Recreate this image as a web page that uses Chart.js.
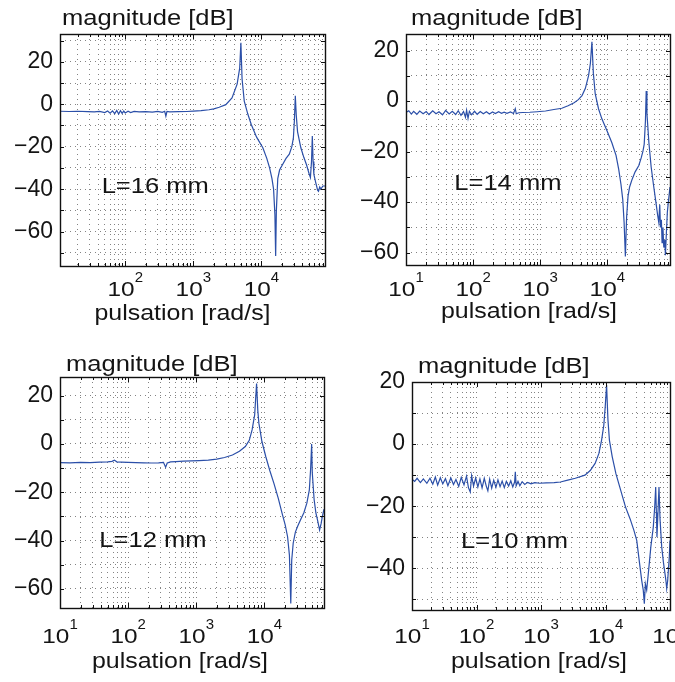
<!DOCTYPE html>
<html>
<head>
<meta charset="utf-8">
<script src="https://cdn.jsdelivr.net/npm/chart.js@4.4.0/dist/chart.umd.min.js"></script>
<style>
	body { margin: 0; background: #fff; }
	#wrap { position: relative; width: 675px; height: 682px; overflow: hidden; background: #fff; }
	#wrap canvas { position: absolute; }
</style>
</head>
<body>
<div id="wrap">
	<canvas id="chart1" width="337" height="341" style="left:0px;top:0px"></canvas>
	<canvas id="chart2" width="338" height="341" style="left:337px;top:0px"></canvas>
	<canvas id="chart3" width="337" height="341" style="left:0px;top:341px"></canvas>
	<canvas id="chart4" width="338" height="341" style="left:337px;top:341px"></canvas>
</div>
<script>
//data (pulsation in rad/s, magnitude in dB)
const w16 = [11, 15, 20, 28, 35, 42, 50, 55, 60, 65, 70, 75, 80, 85, 90, 95, 100, 110, 120, 135, 160, 200, 250, 300, 350, 380, 395, 410, 450, 600, 800, 1000, 1300, 1700, 2000, 2400, 3000, 3700, 4400, 4800, 5000, 5200, 5600, 6300, 7100, 8500, 10500, 12000, 13200, 14300, 15100, 15800, 16200, 16600, 17400, 18500, 20400, 23000, 25700, 28000, 29500, 30500, 31500, 32500, 34000, 38000, 42000, 46000, 50000, 52500, 54500, 56000, 57500, 59000, 63000, 67000, 69000, 72000, 75000, 80000, 86000];
const mag16 = [-3.3, -3.4, -3.3, -3.5, -3.6, -3.4, -3.9, -3.2, -4.2, -3.1, -4.4, -2.9, -4.6, -3.0, -4.3, -3.2, -4.1, -3.3, -3.9, -3.4, -3.6, -3.5, -3.7, -3.4, -3.8, -3.3, -5.6, -3.4, -3.6, -3.5, -3.4, -3.2, -3.0, -2.6, -2.2, -1.4, -0.2, 3.0, 9.5, 17, 29, 12, 1.5, -4.5, -9.5, -15.5, -20.5, -25.5, -30, -35, -40, -52, -71.5, -50, -35, -31, -28.5, -25.5, -23.5, -20, -16, -8, 4, -5, -13, -20.5, -25, -28.5, -32.5, -34.5, -27, -15, -27, -33, -37, -40.5, -41, -39, -40, -38.5, -38.5];

const w14 = [10, 11, 12, 13, 14.5, 16, 18, 20, 22, 25, 28, 31, 35, 39, 44, 49, 55, 60, 66, 72, 77, 80, 84, 88, 95, 105, 115, 128, 142, 158, 175, 195, 215, 240, 265, 290, 320, 360, 400, 425, 440, 480, 550, 700, 900, 1200, 1600, 2100, 2600, 3200, 3700, 4200, 4700, 5250, 5600, 5900, 6200, 6600, 7400, 8300, 10000, 11700, 13500, 14800, 16000, 17000, 17800, 18600, 19400, 20400, 21500, 23400, 26000, 29500, 32000, 34000, 35500, 37000, 38000, 39000, 41700, 45000, 49000, 53000, 56500, 58500, 60500, 62000, 64000, 65500, 67500, 69500, 72000, 73500, 76000, 78500, 82000, 86000];
const mag14 = [-4.5, -3.8, -5.1, -4.0, -5.2, -3.9, -5.0, -4.1, -5.3, -3.8, -5.0, -4.2, -5.4, -3.7, -5.1, -4.0, -5.3, -3.8, -5.6, -4.1, -6.4, -3.6, -6.8, -4.0, -5.4, -4.0, -5.2, -4.1, -5.0, -4.2, -5.1, -4.3, -4.9, -4.2, -4.8, -4.4, -4.8, -4.3, -4.9, -3.0, -5.0, -4.6, -4.5, -4.4, -4.2, -3.9, -3.3, -2.8, -1.8, -0.6, 0.6, 2.2, 5, 10, 15, 23.5, 11, 3, -3, -7, -12, -16.5, -21.5, -27, -33, -39, -48, -61.5, -46, -37.5, -34, -31, -28, -25.5, -22.5, -19.8, -17, -8, 4, -5, -16.5, -26, -33.5, -40, -45.5, -48, -41, -50, -47, -56, -50, -58, -55, -61, -52, -44, -39, -34];

const w12 = [10, 14, 20, 28, 38, 50, 58, 63, 68, 80, 100, 130, 170, 220, 280, 330, 355, 375, 420, 500, 650, 850, 1100, 1500, 2000, 2600, 3400, 4300, 5250, 6000, 6600, 7200, 7680, 8000, 8300, 9200, 10500, 12000, 13800, 16000, 18200, 20200, 21900, 23300, 24400, 25200, 26500, 28500, 30900, 34500, 38000, 42000, 45700, 47800, 49400, 50500, 53700, 57000, 60300, 64600, 68000, 71000, 75000];
const mag12 = [-7.7, -7.8, -7.6, -7.7, -7.5, -7.4, -7.2, -6.7, -7.4, -7.5, -7.6, -7.7, -7.8, -7.9, -7.8, -7.6, -9.6, -7.9, -7.4, -7.3, -7.1, -7.0, -6.9, -6.7, -6.3, -5.6, -4.6, -3.0, -1.1, 1.5, 5.8, 12, 25, 14, 8.6, 1, -5.3, -11, -16.3, -22.5, -28.7, -33.5, -38.4, -46, -66, -48, -41, -36.5, -34, -31, -28.5, -24.5, -19, -10, 0, -12, -23, -28.5, -31.5, -35.6, -33, -30, -27];

const w10 = [10, 11, 12, 13.5, 15, 17, 19, 21, 23, 25, 27.5, 30, 33, 36, 40, 44, 48, 53, 58, 64, 70, 75, 80, 84, 90, 97, 105, 113, 122, 132, 142, 150, 160, 172, 185, 200, 215, 232, 250, 270, 290, 315, 340, 365, 390, 400, 412, 440, 470, 510, 560, 620, 700, 800, 950, 1200, 1600, 2000, 2600, 3400, 4800, 5800, 6900, 7900, 8700, 9400, 9900, 10400, 10900, 11500, 12700, 14500, 17000, 20400, 24000, 27500, 30500, 34300, 36500, 38500, 40000, 41500, 43500, 46100, 50500, 55100, 58000, 60000, 61500, 62800, 64500, 67500, 70000, 74300, 79000, 83600, 86500, 88900, 92000, 97500, 100000];
const mag10 = [-11.3, -12.0, -11.0, -12.4, -11.2, -12.6, -11.0, -12.9, -10.6, -13.2, -10.8, -12.8, -11.1, -13.4, -10.9, -13.0, -11.4, -13.6, -10.7, -13.1, -10.3, -14.0, -15.4, -10.2, -13.5, -10.9, -13.8, -11.2, -14.1, -11.0, -13.6, -15.0, -11.3, -14.2, -11.6, -13.9, -11.5, -13.7, -11.9, -14.0, -12.0, -13.5, -11.8, -13.8, -12.2, -8.9, -13.4, -12.0, -13.4, -12.1, -13.0, -12.3, -12.8, -12.4, -12.6, -12.5, -12.4, -12.2, -11.6, -11.0, -10.0, -8.5, -6.2, -3, 1.3, 6, 12, 19, 8, 1.3, -4, -9.5, -14.5, -20.2, -24, -27.7, -31, -39.6, -44, -47, -51.4, -45, -47, -41.7, -33, -26.7, -20, -13.8, -22, -29.9, -24, -13.8, -24, -33, -38, -41.7, -44, -46.5, -44, -36.3, -31];

//axis ranges, labels and tick values
const xRanges = [[11, 86000], [10, 86000], [10, 75000], [10, 100000]];
const yRanges = [[-76.2, 33.1], [-64.9, 26.6], [-67.9, 27.7], [-53.4, 20]];
const decadeTicks = [10, 100, 1000, 10000, 100000];
const yLabelStep = 20;
const yGridStep = 10;
const lengthLabels = ['L=16 mm', 'L=14 mm', 'L=12 mm', 'L=10 mm'];
const labelSpots = [[45, -41.8], [52.5, -35], [37.8, -42.5], [57.5, -33.6]];
const yTitle = 'magnitude [dB]';
const xTitle = 'pulsation [rad/s]';

//layout of each panel inside its canvas
const panels = [
	{id: 'chart1', w: w16, m: mag16, axisW: 60, padTop: 34, padRight: 12, axisH: 75, title: [2, -9], xlab: [-10, 54], tickBase: 30},
	{id: 'chart2', w: w14, m: mag14, axisW: 69, padTop: 34, padRight: 5, axisH: 76, title: [5, -9], xlab: [-9, 53], tickBase: 31},
	{id: 'chart3', w: w12, m: mag12, axisW: 60, padTop: 36, padRight: 13, axisH: 74, title: [6, -6], xlab: [-12, 60], tickBase: 35},
	{id: 'chart4', w: w10, m: mag10, axisW: 75, padTop: 41, padRight: 5, axisH: 72, title: [6, -9], xlab: [-2, 58], tickBase: 33}
];

const FONT = "'Liberation Sans', Arial, Helvetica, sans-serif";
const TEXT = '#141414';
const GRID = 'rgba(30,30,30,0.55)';
const STRETCH = 1.16; //the original lettering is a bit wider than it is tall

function wideText(ctx, str, x, y, size, align, sx) {
	sx = sx || STRETCH;
	ctx.font = size + 'px ' + FONT;
	let w = ctx.measureText(str).width * sx;
	let x0 = align == 'center' ? x - w / 2 : x;
	ctx.save();
	ctx.translate(x0, y);
	ctx.scale(sx, 1);
	ctx.textAlign = 'left';
	ctx.textBaseline = 'alphabetic';
	ctx.fillText(str, 0, 0);
	ctx.restore();
	return w;
}

function gridValues(min, max) {
	let vals = [];
	decadeTicks.forEach(d => {
		for(let k = 1; k < 10; k++) {
			let v = d * k;
			if(v >= min * 0.999 && v <= max * 1.001) vals.push(v);
		}
	});
	return vals;
}

//box, inner ticks and all the lettering
const matlabFrame = {
	id: 'matlabFrame',
	afterDraw(chart, args, options) {
		const {ctx, chartArea: {left, top, right, bottom}, scales: {x, y}} = chart;
		const p = options.panel;
		ctx.save();
		ctx.strokeStyle = '#111';
		ctx.lineWidth = 1;
		ctx.beginPath();
		y.ticks.forEach(t => {
			let py = Math.round(y.getPixelForValue(t.value)) + 0.5;
			ctx.moveTo(left, py); ctx.lineTo(left + 4, py);
			ctx.moveTo(right, py); ctx.lineTo(right - 4, py);
		});
		gridValues(x.min, x.max).forEach(v => {
			let px = Math.round(x.getPixelForValue(v)) + 0.5;
			let len = decadeTicks.indexOf(v) >= 0 ? 5 : 3;
			ctx.moveTo(px, bottom); ctx.lineTo(px, bottom - len);
			ctx.moveTo(px, top); ctx.lineTo(px, top + len);
		});
		ctx.stroke();
		ctx.lineWidth = 1.4;
		ctx.strokeRect(Math.round(left) + 0.5, Math.round(top) + 0.5, Math.round(right - left), Math.round(bottom - top));

		ctx.fillStyle = TEXT;
		//decade labels 10^n
		decadeTicks.forEach(v => {
			if(v < x.min * 0.999 || v > x.max * 1.001) return;
			let px = x.getPixelForValue(v);
			let exp = String(Math.round(Math.log10(v)));
			ctx.font = '21px ' + FONT;
			let wb = ctx.measureText('10').width * STRETCH;
			ctx.font = '15px ' + FONT;
			let we = ctx.measureText(exp).width;
			let x0 = px - (wb + we) / 2;
			let base = bottom + p.tickBase;
			wideText(ctx, '10', x0, base, 21, 'left');
			wideText(ctx, exp, x0 + wb, base - 14, 15, 'left', 1);
		});
		wideText(ctx, yTitle, left + p.title[0], top + p.title[1], 22, 'left');
		wideText(ctx, xTitle, (left + right) / 2 + p.xlab[0], bottom + p.xlab[1], 21.5, 'center');
		wideText(ctx, options.note, x.getPixelForValue(options.spot[0]), y.getPixelForValue(options.spot[1]), 22, 'left');
		ctx.restore();
	}
};

function fmtDb(v) {
	if(v % yLabelStep != 0) return '';
	return v < 0 ? '\u2212' + Math.abs(v) : String(v);
}

function renderPanel(p, index) {
	let canvas = document.getElementById(p.id);
	let config = {
		type: 'line',
		data: {
			datasets: [{
				data: p.w.map((v, i) => ({x: v, y: p.m[i]})),
				borderColor: '#2b4fa8',
				borderWidth: 1.2,
				pointRadius: 0,
				tension: 0,
				fill: false
			}]
		},
		options: {
			responsive: false,
			devicePixelRatio: 1,
			animation: false,
			events: [],
			layout: {
				padding: {top: p.padTop, right: p.padRight, left: 0, bottom: 0}
			},
			plugins: {
				legend: {display: false},
				tooltip: {enabled: false},
				matlabFrame: {panel: p, note: lengthLabels[index], spot: labelSpots[index]}
			},
			scales: {
				x: {
					type: 'logarithmic',
					min: xRanges[index][0],
					max: xRanges[index][1],
					afterBuildTicks: scale => {
						scale.ticks = gridValues(scale.min, scale.max).map(v => ({value: v}));
					},
					afterFit: scale => { scale.height = p.axisH; },
					ticks: {display: false},
					grid: {color: GRID, lineWidth: 1, drawTicks: false},
					border: {display: false, dash: [1, 4]}
				},
				y: {
					type: 'linear',
					min: yRanges[index][0],
					max: yRanges[index][1],
					afterFit: scale => { scale.width = p.axisW; },
					ticks: {
						stepSize: yGridStep,
						includeBounds: false,
						autoSkip: false,
						padding: 7,
						color: TEXT,
						font: {family: FONT, size: 23},
						callback: function(value) {
							return fmtDb(value);
						}
					},
					grid: {color: GRID, lineWidth: 1, drawTicks: false},
					border: {display: false, dash: [1, 4]}
				}
			}
		},
		plugins: [matlabFrame]
	};
	window['container' + index] = new Chart(canvas, config);
}

panels.forEach(renderPanel);
</script>
</body>
</html>
